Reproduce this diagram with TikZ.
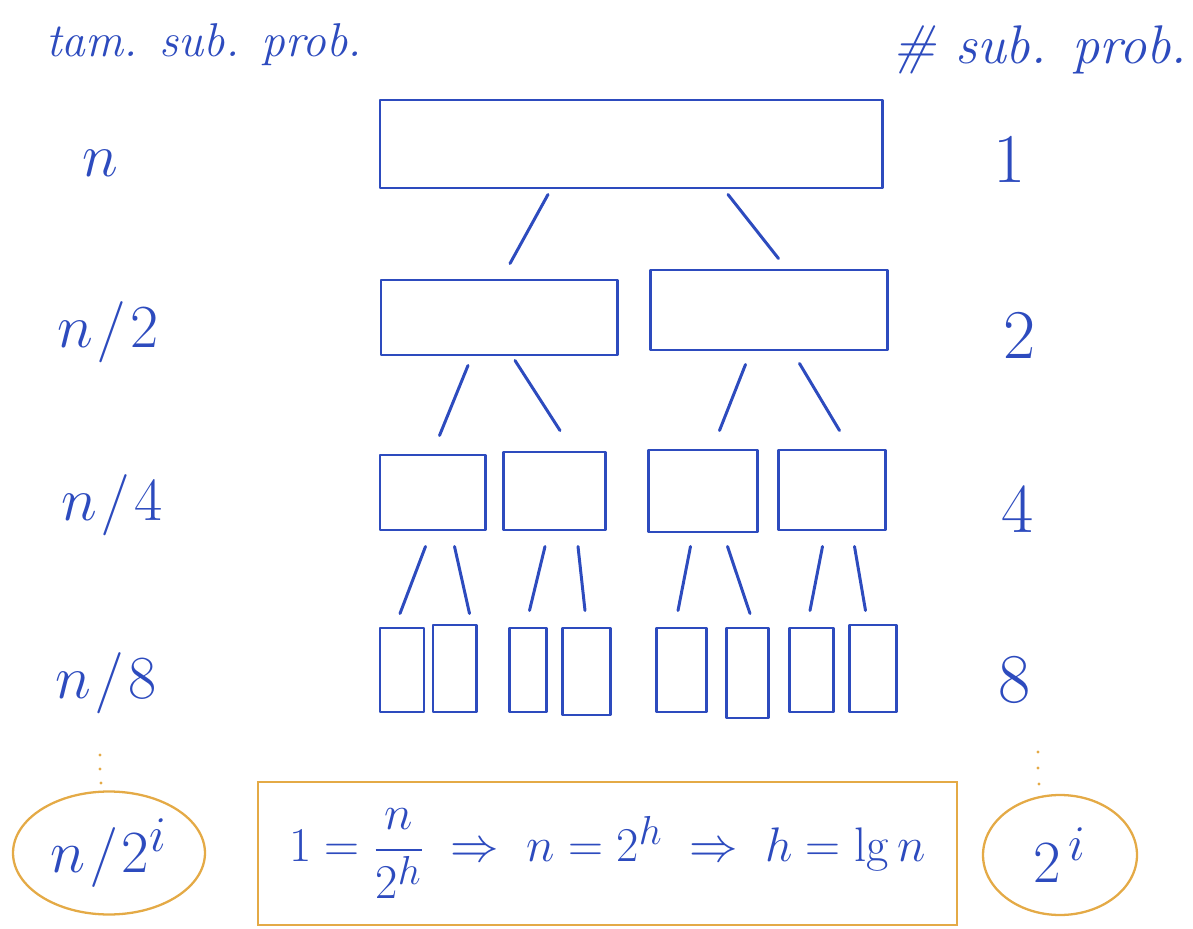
\documentclass[tikz,border=0pt]{standalone}
\usepackage{amsmath}
\usetikzlibrary{fit,calc,shapes.geometric}
\definecolor{ink}{RGB}{45,75,190}
\definecolor{hl}{RGB}{228,170,70}
\tikzset{
  box/.style={draw=ink, line width=1.7pt, inner sep=0pt, line join=round},
  link/.style={draw=ink, line width=1.7pt, line cap=round},
  lvl/.style={text=ink, font=\Huge},
  head/.style={text=ink, font=\fontsize{#1}{30}\selectfont\itshape},
  ring/.style={draw=hl, line width=1.3pt, ellipse, inner sep=0pt},
}
\newcommand{\linkpc}[6]{\draw[link] ($(#1)+(#2,#3)$) -- ($(#4)+(#5,#6)$);}
\newcommand{\myslash}{\mkern1mu/\mkern1mu}
\begin{document}
\begin{tikzpicture}[x=0.02cm,y=-0.02cm]
\useasboundingbox (0,0) rectangle (1193,929);
% headers
\node[head=27] (hl) at (204,45) {tam. sub. prob.};
\node[head=31] (hr) at (1040,50) {\# sub. prob.};
% level 0
\node[box, fit={(380,100) (882,188)}] (r) {};
% level 1
\node[box, fit={(381,280) (617,355)}] (a) {};
\node[box, fit={(650,270) (887,350)}] (b) {};
% level 2
\node[box, fit={(380,455) (485,530)}] (aa) {};
\node[box, fit={(503,452) (605,530)}] (ab) {};
\node[box, fit={(648,450) (757,532)}] (ba) {};
\node[box, fit={(778,450) (885,530)}] (bb) {};
% level 3
\node[box, fit={(380,628) (424,712)}] (c1) {};
\node[box, fit={(433,625) (476,712)}] (c2) {};
\node[box, fit={(509,628) (546,712)}] (c3) {};
\node[box, fit={(562,628) (610,715)}] (c4) {};
\node[box, fit={(656,628) (706,712)}] (c5) {};
\node[box, fit={(726,628) (768,718)}] (c6) {};
\node[box, fit={(789,628) (833,712)}] (c7) {};
\node[box, fit={(849,625) (896,712)}] (c8) {};
% connectors
\linkpc{r.south}{-83}{5}{a.north}{11}{-15}
\linkpc{r.south}{97}{5}{b.north}{10}{-10}
\linkpc{a.south}{-31}{9}{aa.north}{7}{-18}
\linkpc{a.south}{16}{4}{ab.north}{6}{-20}
\linkpc{b.south}{-23}{13}{ba.north}{17}{-18}
\linkpc{b.south}{31}{12}{bb.north}{8}{-18}
\linkpc{aa.south}{-7}{15}{c1.north}{-2}{-13}
\linkpc{aa.south}{22}{15}{c2.north}{15}{-10}
\linkpc{ab.south}{-9}{15}{c3.north}{2}{-16}
\linkpc{ab.south}{24}{15}{c4.north}{-1}{-16}
\linkpc{ba.south}{-12}{13}{c5.north}{-3}{-16}
\linkpc{ba.south}{25}{13}{c6.north}{3}{-13}
\linkpc{bb.south}{-9}{15}{c7.north}{-1}{-16}
\linkpc{bb.south}{23}{15}{c8.north}{-7}{-13}
% left labels
\node[lvl] (l0) at (100,163) {\scalebox{1.4}{$n$}};
\node[lvl] (l1) at (108,332) {\scalebox{1.4}{$n\myslash 2$}};
\node[lvl] (l2) at (112,505) {\scalebox{1.4}{$n\myslash 4$}};
\node[lvl] (l3) at (106,683) {\scalebox{1.4}{$n\myslash 8$}};
% right labels
\node[lvl] (r0) at (1010,160) {\scalebox{1.6}{$1$}};
\node[lvl] (r1) at (1020,336) {\scalebox{1.6}{$2$}};
\node[lvl] (r2) at (1018,510) {\scalebox{1.6}{$4$}};
\node[lvl] (r3) at (1015,680) {\scalebox{1.6}{$8$}};
% dots
\fill[hl] (100,755) circle (1.6) (100,769) circle (1.6) (101,783) circle (1.6);
\fill[hl] (1038,752) circle (1.6) (1038,768) circle (1.6) (1039,784) circle (1.6);
% bottom row
\node[ring, text=ink, font=\Huge,
      minimum width=3.84cm, minimum height=2.46cm] (ei) at (109,853) {\scalebox{1.37}{$n\myslash 2^{i}$}};
\node[ring, text=ink, font=\Huge,
      minimum width=3.08cm, minimum height=2.4cm] (e2) at (1060,855) {\scalebox{1.37}{$2^{\,i}$}};
\node[draw=hl, line width=1.3pt, inner sep=0pt, fit={(258,782) (957,925)}] (fb) {};
\node[text=ink, font=\Huge] (fm) at (fb.center)
  {\scalebox{1.11}{$1 = \dfrac{n}{2^h} \;\Rightarrow\; n = 2^h \;\Rightarrow\; h = \lg n$}};
\end{tikzpicture}
\end{document}
